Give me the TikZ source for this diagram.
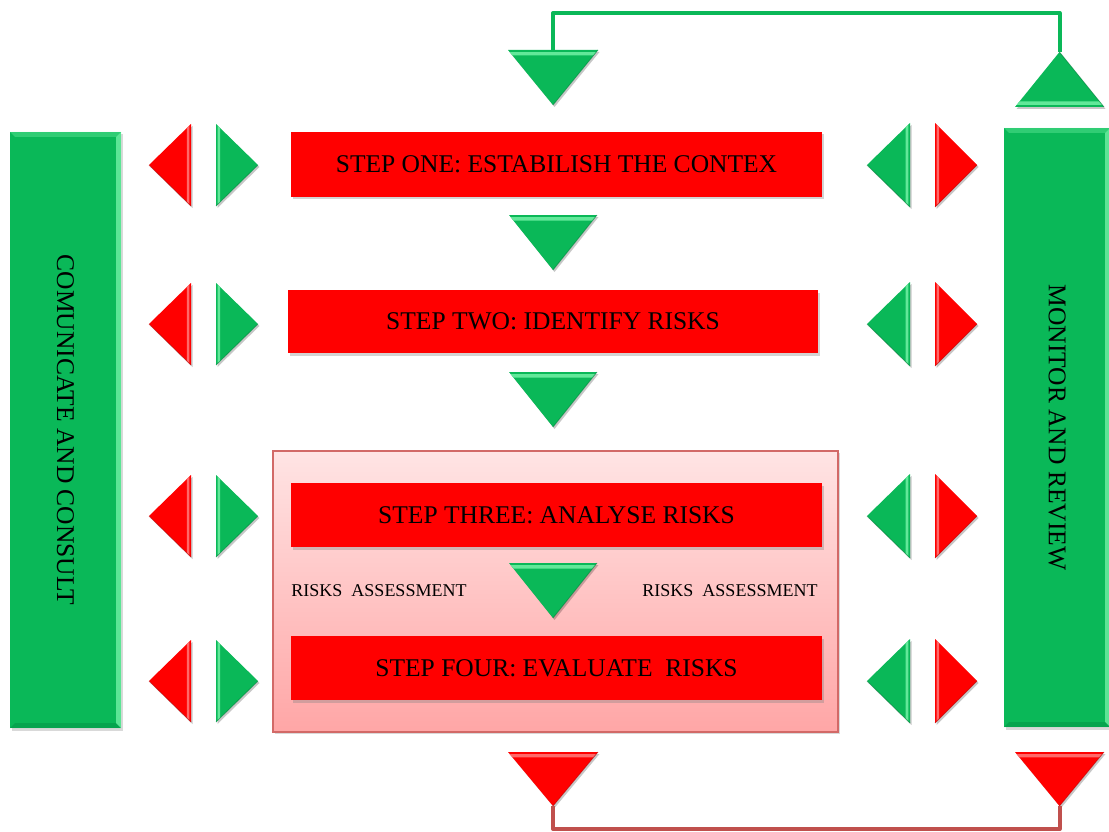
\documentclass[tikz,border=0pt]{standalone}
\usepackage{fontspec}
\setmainfont{Liberation Serif}
\usetikzlibrary{calc,shadows}

\definecolor{gfill}{RGB}{10,184,88}
\definecolor{glight}{RGB}{120,245,170}
\definecolor{gdark}{RGB}{0,120,55}
\definecolor{rfill}{RGB}{255,0,0}
\definecolor{rlight}{RGB}{255,130,130}
\definecolor{rdark}{RGB}{170,0,0}
\definecolor{loopred}{RGB}{192,80,77}
\definecolor{pinktop}{RGB}{255,228,228}
\definecolor{pinkbot}{RGB}{255,166,166}
\definecolor{pinkedge}{RGB}{210,105,103}

% bevelled triangle: name, base corner 1, base corner 2, tip, fill, light, dark
\newcommand\bevtri[7]{%
  \coordinate (#1-b1) at #2;
  \coordinate (#1-b2) at #3;
  \coordinate (#1-tip) at #4;
  \coordinate (#1-mid) at ($(#1-b1)!0.5!(#1-b2)$);
  \fill[black,opacity=.22] ([shift={(1.5pt,-2pt)}]#1-b1) -- ([shift={(1.5pt,-2pt)}]#1-b2)
     -- ([shift={(1.5pt,-2pt)}]#1-tip) -- cycle;
  \fill[#5] (#1-b1) -- (#1-b2) -- (#1-tip) -- cycle;
  \fill[#6,opacity=.8] ($(#1-b1)!0.04!(#1-tip)$) -- ($(#1-b2)!0.04!(#1-tip)$)
     -- ($(#1-b2)!0.10!(#1-tip)$) -- ($(#1-b1)!0.10!(#1-tip)$) -- cycle;
  \draw[#7,line width=.8pt,opacity=.5] (#1-b2) -- (#1-tip);
}

\tikzset{
  stepbox/.style={fill=rfill, inner sep=0pt, minimum width=531pt, minimum height=65pt,
    font=\fontsize{25.5}{30}\selectfont,
    drop shadow={shadow xshift=1.5pt, shadow yshift=-2.5pt, opacity=.35}},
  sidebar/.style={fill=gfill, inner sep=0pt,
    drop shadow={shadow xshift=2pt, shadow yshift=-2.5pt, opacity=.3}},
  barlabel/.style={rotate=-90, font=\fontsize{25.5}{30}\selectfont},
  notetext/.style={font=\fontsize{18}{20}\selectfont, inner sep=0pt},
  greenloop/.style={draw=gfill, line width=4pt, line join=round},
  redloop/.style={draw=loopred, line width=4pt, line join=round}
}

\begin{document}
\begin{tikzpicture}[x=1pt,y=-1pt]
\useasboundingbox (0,0) rectangle (1109,832);

% risk assessment frame
\node[minimum width=565pt, minimum height=281pt, inner sep=0pt,
      top color=pinktop, bottom color=pinkbot, draw=pinkedge, line width=1.2pt,
      drop shadow={shadow xshift=1.5pt, shadow yshift=-2pt, opacity=.3}]
      (assess) at (555.5,591.5) {};
\node[notetext] (noteL) at (379,591) {RISKS~~ASSESSMENT};
\node[notetext] (noteR) at (730,591) {RISKS~~ASSESSMENT};

% process steps
\node[stepbox] (s1) at (556.5,164.5) {STEP ONE: ESTABILISH THE CONTEX};
\node[stepbox, minimum width=530pt, minimum height=63pt] (s2) at (553,321.5) {STEP TWO: IDENTIFY RISKS};
\node[stepbox, minimum height=64pt] (s3) at (556.5,515) {STEP THREE: ANALYSE RISKS};
\node[stepbox, minimum height=64pt] (s4) at (556.5,668) {STEP FOUR: EVALUATE~~RISKS};

% side bars
\node[sidebar, minimum width=111pt, minimum height=596pt,
      label={[barlabel]center:COMUNICATE AND CONSULT}] (cc) at (65.5,430) {};
\node[sidebar, minimum width=106pt, minimum height=599pt,
      label={[barlabel]center:MONITOR AND REVIEW}] (mr) at (1057,427.5) {};
\foreach \b in {cc,mr}{
  \fill[glight,opacity=.75] (\b.north east) -- (\b.south east)
     -- ($(\b.south east)+(-5,-5)$) -- ($(\b.north east)+(-5,5)$) -- cycle;
  \fill[glight,opacity=.35] (\b.north west) -- (\b.north east)
     -- ($(\b.north east)+(-5,5)$) -- ($(\b.north west)+(5,5)$) -- cycle;
  \fill[gdark,opacity=.3] (\b.south west) -- (\b.south east)
     -- ($(\b.south east)+(-5,-5)$) -- ($(\b.south west)+(5,-5)$) -- cycle;
}

% exchange arrows beside every step
\foreach \r/\y in {1/165,2/324,3/516,4/681}{
  \bevtri{lr\r}{(191,\y-41)}{(191,\y+41)}{(149,\y)}{rfill}{rlight}{rdark}
  \bevtri{lg\r}{(216,\y-41)}{(216,\y+41)}{(258,\y)}{gfill}{glight}{gdark}
  \bevtri{rg\r}{(910,\y-42)}{(910,\y+42)}{(867,\y)}{gfill}{glight}{gdark}
  \bevtri{rr\r}{(935,\y-42)}{(935,\y+42)}{(977,\y)}{rfill}{rlight}{rdark}
}

% flow arrows between steps
\bevtri{d0}{(508,50)}{(598,50)}{(553,105)}{gfill}{glight}{gdark}
\bevtri{d1}{(509,215)}{(597,215)}{(553,270)}{gfill}{glight}{gdark}
\bevtri{d2}{(509,372)}{(597,372)}{(553,427)}{gfill}{glight}{gdark}
\bevtri{d3}{(509,563)}{(597,563)}{(553,618)}{gfill}{glight}{gdark}

% monitoring loop
\bevtri{up}{(1015,107)}{(1104,107)}{(1059.5,52)}{gfill}{glight}{gdark}
\coordinate (topy) at (0,13);
\draw[greenloop] (up-tip) -- (up-tip |- topy) -- (d0-mid |- topy) -- (d0-mid);

% output loop
\bevtri{o1}{(508,752)}{(598,752)}{(553,806)}{rfill}{rlight}{rdark}
\bevtri{o2}{(1015,752)}{(1104,752)}{(1059.5,806)}{rfill}{rlight}{rdark}
\coordinate (boty) at (0,829);
\draw[redloop] (o1-tip) -- (o1-tip |- boty) -- (o2-tip |- boty) -- (o2-tip);
\end{tikzpicture}
\end{document}
